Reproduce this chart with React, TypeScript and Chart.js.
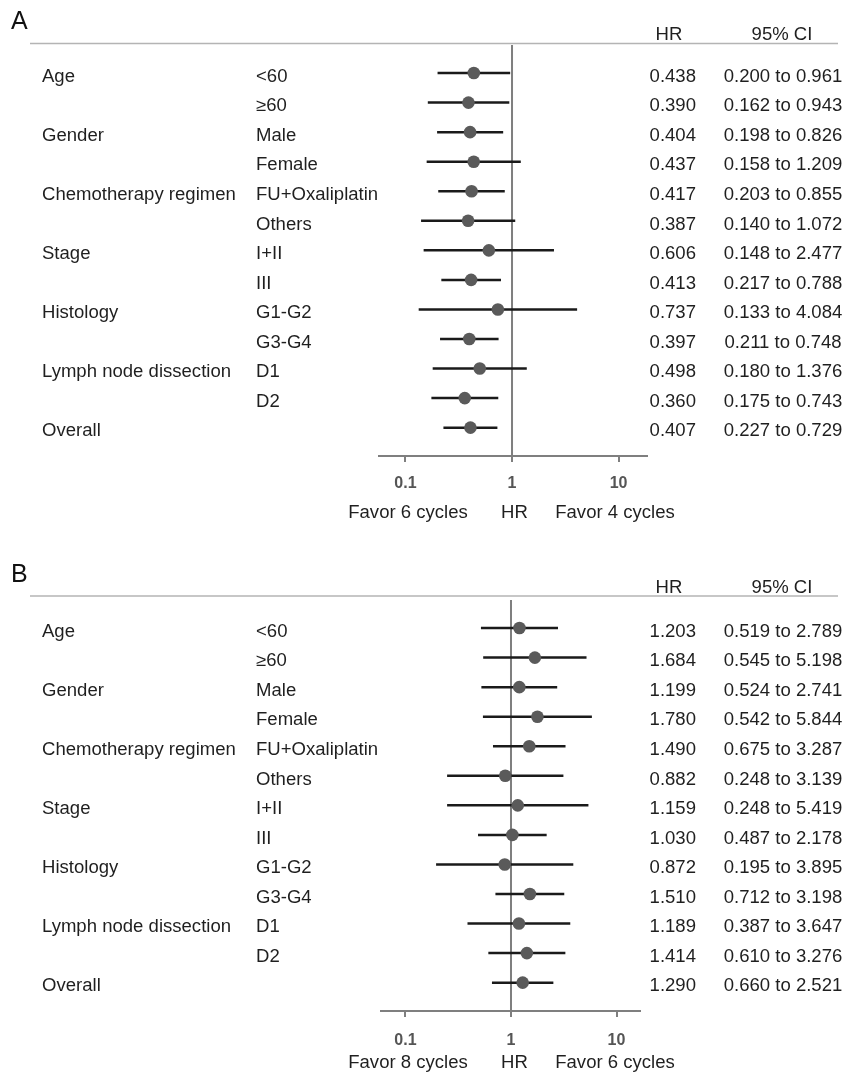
import React, { useEffect, useRef } from 'react';
import { Chart, registerables } from 'chart.js';

Chart.register(...registerables);

// ---------- data ----------
const GROUPS = ['Age', '', 'Gender', '', 'Chemotherapy regimen', '', 'Stage', '', 'Histology', '', 'Lymph node dissection', '', 'Overall'];
const SUBGROUPS = ['<60', '≥60', 'Male', 'Female', 'FU+Oxaliplatin', 'Others', 'I+II', 'III', 'G1-G2', 'G3-G4', 'D1', 'D2', ''];

const HR_A = [0.438, 0.390, 0.404, 0.437, 0.417, 0.387, 0.606, 0.413, 0.737, 0.397, 0.498, 0.360, 0.407];
const LO_A = [0.200, 0.162, 0.198, 0.158, 0.203, 0.140, 0.148, 0.217, 0.133, 0.211, 0.180, 0.175, 0.227];
const HI_A = [0.961, 0.943, 0.826, 1.209, 0.855, 1.072, 2.477, 0.788, 4.084, 0.748, 1.376, 0.743, 0.729];

const HR_B = [1.203, 1.684, 1.199, 1.780, 1.490, 0.882, 1.159, 1.030, 0.872, 1.510, 1.189, 1.414, 1.290];
const LO_B = [0.519, 0.545, 0.524, 0.542, 0.675, 0.248, 0.248, 0.487, 0.195, 0.712, 0.387, 0.610, 0.660];
const HI_B = [2.789, 5.198, 2.741, 5.844, 3.287, 3.139, 5.419, 2.178, 3.895, 3.198, 3.647, 3.276, 2.521];

const TICK_VALUES = [0.1, 1, 10];
const TICK_LABELS = ['0.1', '1', '10'];
const HEADERS = ['HR', '95% CI'];
const FAVOR_A = ['Favor 6 cycles', 'HR', 'Favor 4 cycles'];
const FAVOR_B = ['Favor 8 cycles', 'HR', 'Favor 6 cycles'];

// ---------- layout / style ----------
const W = 847;
const FONT = '"Liberation Sans", Arial, Helvetica, sans-serif';
const TEXT_SIZE = 17.5;
const SX = 1.06;
const TEXT_COLOR = '#1f1f1f';

type Cfg = {
  top: number; height: number; left: number; right: number; xMin: number; xMax: number;
  headerLineY: number; headerBase: number; letterBase: number; favorBase: number; tickPad: number;
};

const CFG_A: Cfg = { top: 0, height: 540, left: 379, right: 647, xMin: 0.0564, xMax: 18.5, headerLineY: 43.5, headerBase: 40, letterBase: 29, favorBase: 518, tickPad: 12 };
const CFG_B: Cfg = { top: 555, height: 520, left: 381, right: 640, xMin: 0.0586, xMax: 16.7, headerLineY: 41, headerBase: 38, letterBase: 27, favorBase: 513, tickPad: 14 };

const AREA_TOP = 45;
const AREA_BOTTOM = 456;
const Y_MIN = -0.95;
const Y_MAX = 12.96;

function drawText(ctx: CanvasRenderingContext2D, s: string, x: number, y: number, align: CanvasTextAlign, sx = SX) {
  ctx.save();
  ctx.translate(x, y);
  ctx.scale(sx, 1);
  ctx.textAlign = align;
  ctx.textBaseline = 'alphabetic';
  ctx.fillText(s, 0, 0);
  ctx.restore();
}

function Forest({ letter, hr, lo, hi, favor, cfg }: { letter: string; hr: number[]; lo: number[]; hi: number[]; favor: string[]; cfg: Cfg }) {
  const ref = useRef<HTMLCanvasElement>(null);
  useEffect(() => {
    const canvas = ref.current!;
    const ciSets = hr.map((_, i) => ({
      type: 'line' as const,
      data: [{ x: lo[i], y: i }, { x: hi[i], y: i }],
      borderColor: '#1a1a1a',
      borderWidth: 2.5,
      pointRadius: 0,
      order: 1,
    }));
    const textPlugin = {
      id: 'forestText',
      afterDraw(chart: any) {
        const ctx: CanvasRenderingContext2D = chart.ctx;
        const ys = chart.scales.y;
        ctx.save();
        // panel letter
        ctx.fillStyle = '#111';
        ctx.font = `25px ${FONT}`;
        drawText(ctx, letter, 11, cfg.letterBase, 'left', 1);
        // header line
        ctx.strokeStyle = '#b4b4b4';
        ctx.lineWidth = 1.5;
        ctx.beginPath();
        ctx.moveTo(30, cfg.headerLineY);
        ctx.lineTo(838, cfg.headerLineY);
        ctx.stroke();
        ctx.fillStyle = TEXT_COLOR;
        ctx.font = `${TEXT_SIZE}px ${FONT}`;
        drawText(ctx, HEADERS[0], 669, cfg.headerBase, 'center');
        drawText(ctx, HEADERS[1], 782, cfg.headerBase, 'center');
        hr.forEach((v, i) => {
          const y = ys.getPixelForValue(i) + 8.7;
          if (GROUPS[i]) drawText(ctx, GROUPS[i], 42, y, 'left');
          if (SUBGROUPS[i]) drawText(ctx, SUBGROUPS[i], 256, y, 'left');
          drawText(ctx, v.toFixed(3), 696, y, 'right');
          drawText(ctx, `${lo[i].toFixed(3)} to ${hi[i].toFixed(3)}`, 783, y, 'center');
        });
        drawText(ctx, favor[0], 408, cfg.favorBase, 'center');
        drawText(ctx, favor[1], 514.5, cfg.favorBase, 'center');
        drawText(ctx, favor[2], 615, cfg.favorBase, 'center');
        ctx.restore();
      },
    };
    const chart = new Chart(canvas, {
      type: 'scatter',
      data: {
        datasets: [
          {
            type: 'scatter',
            data: hr.map((v, i) => ({ x: v, y: i })),
            pointRadius: 6.3,
            pointBackgroundColor: '#5a5a5a',
            pointBorderWidth: 0,
            order: 0,
          } as any,
          ...ciSets,
          {
            type: 'line',
            data: [{ x: 1, y: Y_MIN }, { x: 1, y: Y_MAX }],
            borderColor: '#7f7f7f',
            borderWidth: 2,
            pointRadius: 0,
            order: 2,
          },
        ],
      },
      options: {
        animation: false,
        responsive: false,
        devicePixelRatio: 1,
        events: [],
        layout: { padding: { left: cfg.left, right: W - cfg.right, top: AREA_TOP, bottom: 0 } },
        plugins: { legend: { display: false }, tooltip: { enabled: false }, title: { display: false } },
        scales: {
          x: {
            type: 'logarithmic',
            min: cfg.xMin,
            max: cfg.xMax,
            afterBuildTicks: (scale: any) => {
              scale.ticks = TICK_VALUES.map((v) => ({ value: v }));
            },
            afterFit: (scale: any) => {
              scale.height = cfg.height - AREA_BOTTOM;
            },
            ticks: {
              autoSkip: false,
              maxRotation: 0,
              padding: cfg.tickPad,
              color: '#555555',
              font: { family: FONT, size: 16, weight: 'bold' },
              callback: (_v: any, i: number) => TICK_LABELS[i],
            },
            grid: { display: true, drawOnChartArea: false, drawTicks: true, tickLength: 6, color: '#7f7f7f', lineWidth: 2 },
            border: { display: true, color: '#7f7f7f', width: 2 },
          } as any,
          y: { type: 'linear', reverse: true, min: Y_MIN, max: Y_MAX, display: false },
        },
      },
      plugins: [textPlugin],
    });
    return () => chart.destroy();
  }, []);
  return (
    <canvas
      ref={ref}
      width={W}
      height={cfg.height}
      style={{ position: 'absolute', left: 0, top: cfg.top, width: W, height: cfg.height, display: 'block' }}
    />
  );
}

export default function App() {
  return (
    <div style={{ position: 'absolute', left: 0, top: 0, width: W, height: 1075, background: '#fff', overflow: 'hidden' }}>
      <Forest letter="A" hr={HR_A} lo={LO_A} hi={HI_A} favor={FAVOR_A} cfg={CFG_A} />
      <Forest letter="B" hr={HR_B} lo={LO_B} hi={HI_B} favor={FAVOR_B} cfg={CFG_B} />
    </div>
  );
}
